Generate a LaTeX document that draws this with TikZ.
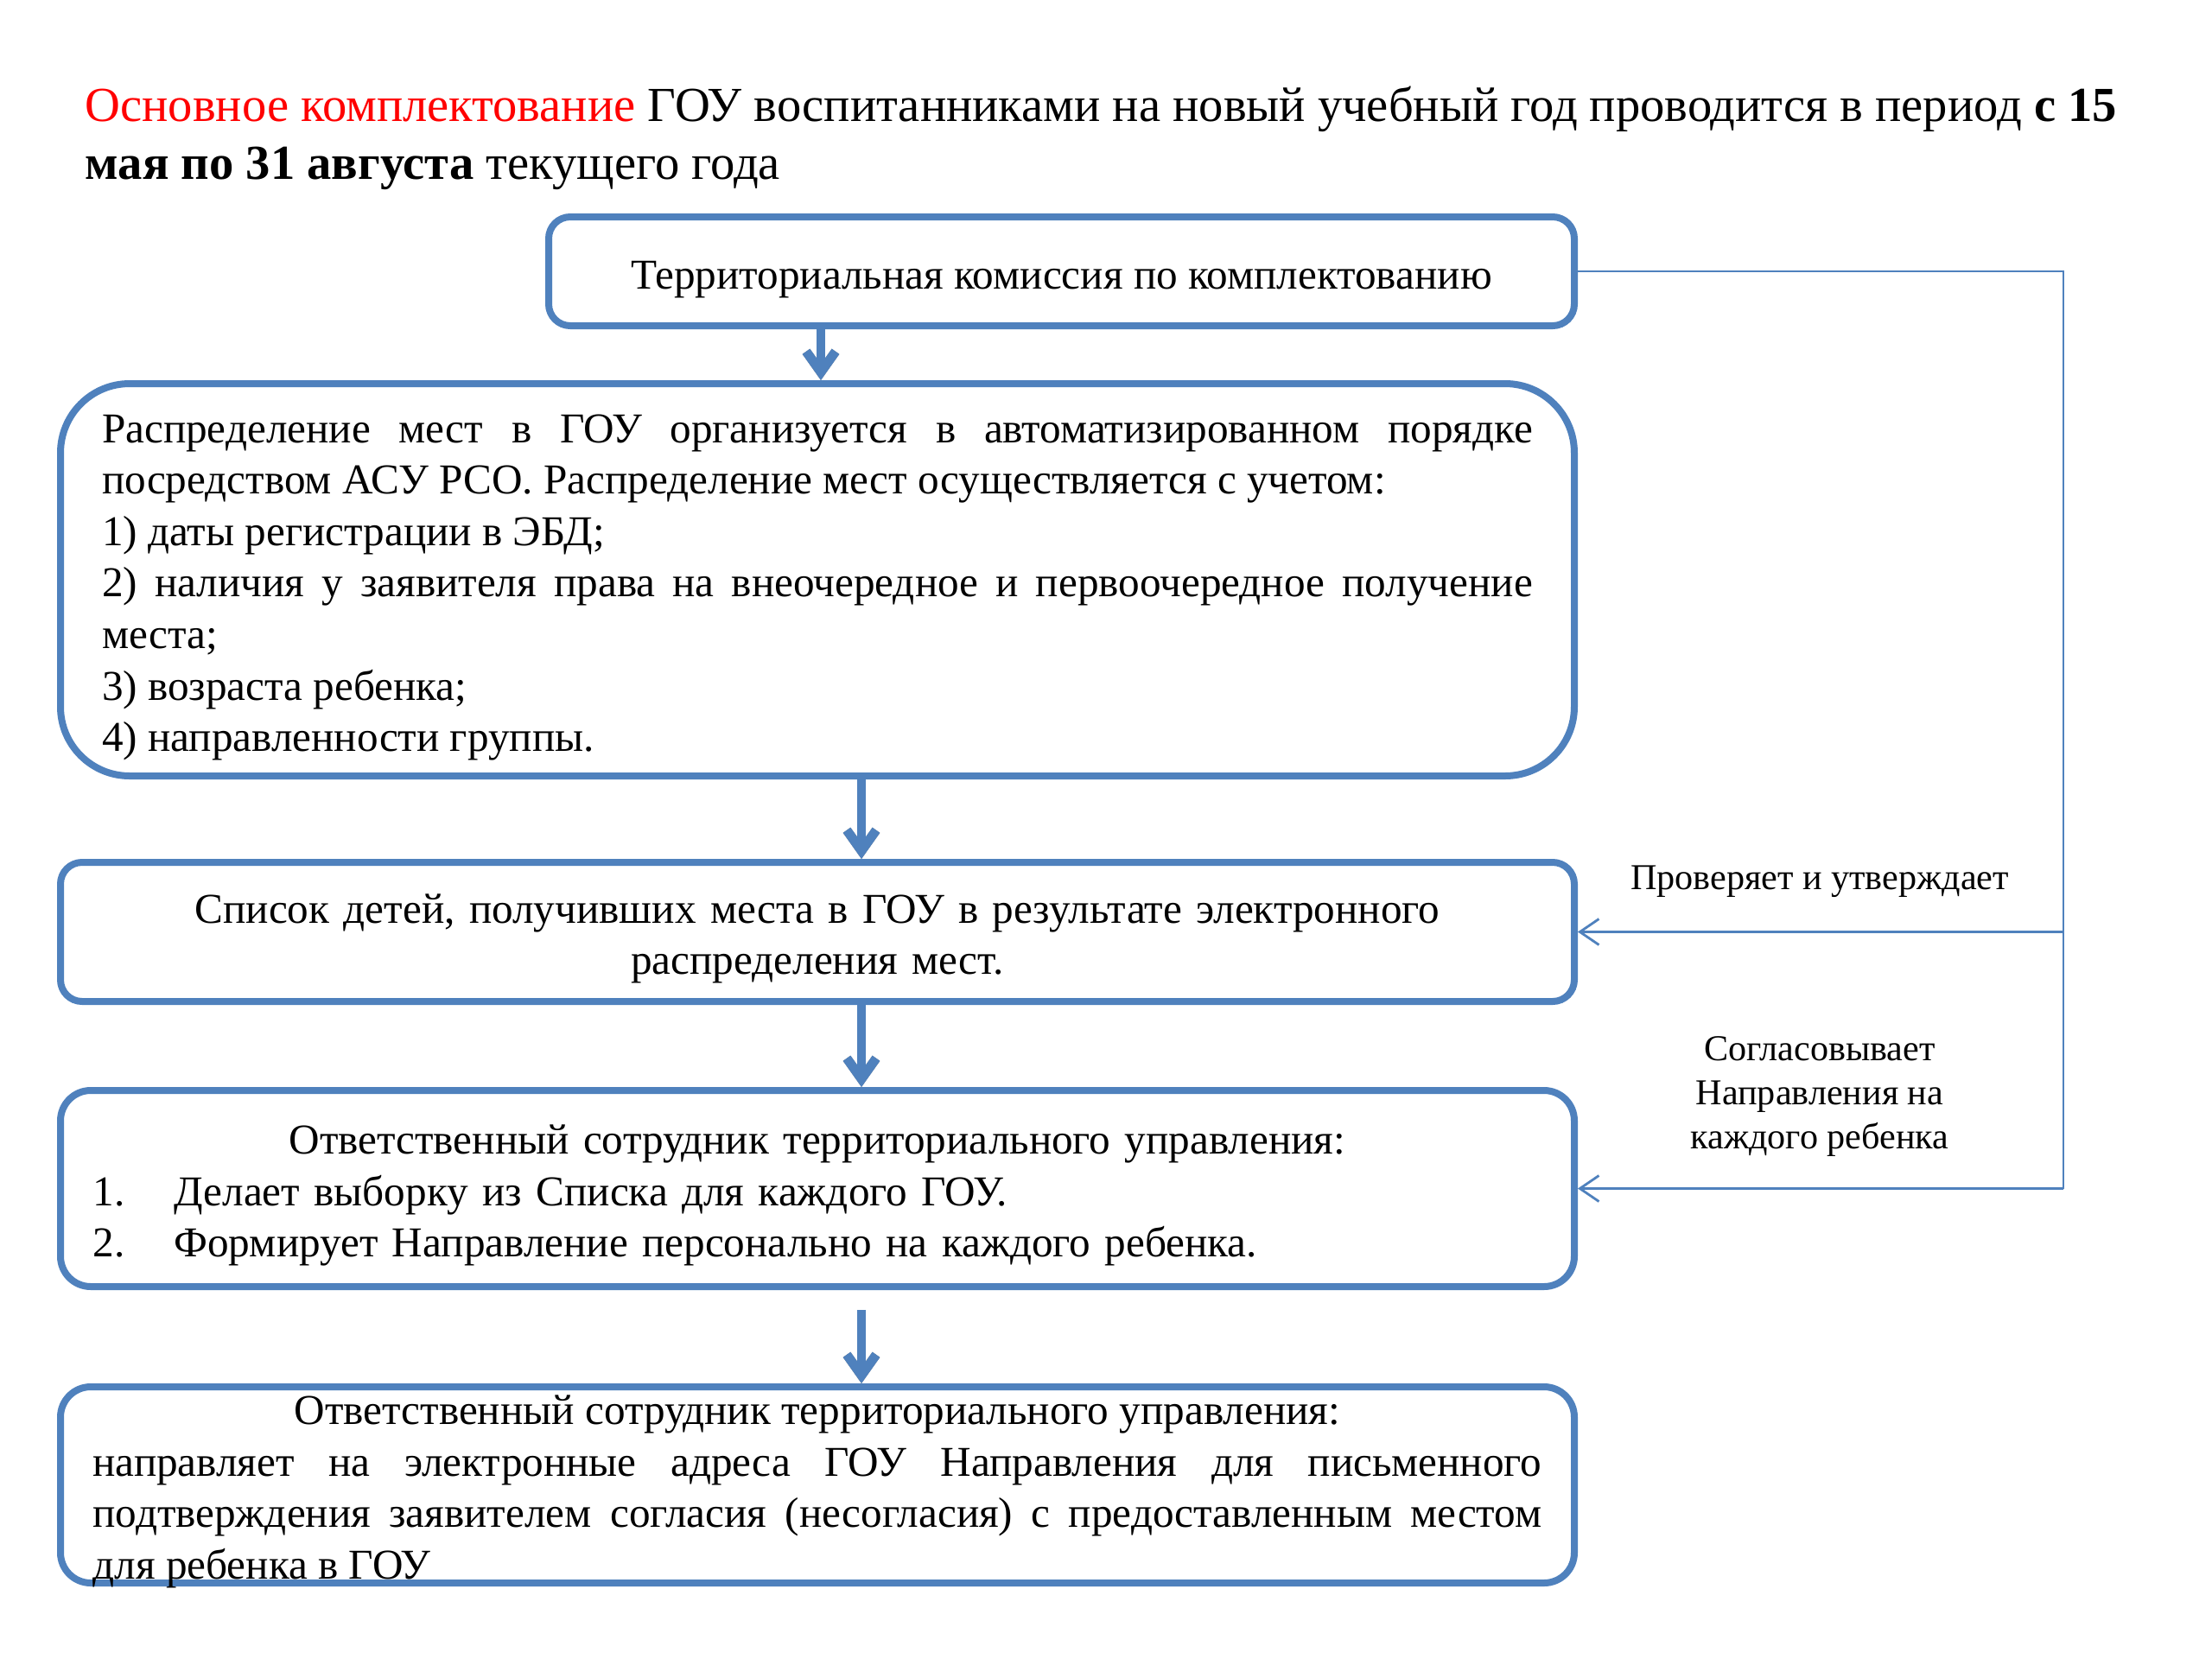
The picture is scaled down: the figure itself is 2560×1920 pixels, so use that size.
\documentclass[tikz,border=0pt]{standalone}
\usepackage{fontspec}
\setmainfont{Liberation Serif}
\usetikzlibrary{arrows.meta,calc}
\definecolor{boxblue}{HTML}{4F81BD}
\definecolor{titlered}{HTML}{FF0000}
\definecolor{shadowgray}{HTML}{8C8C8C}
\begin{document}
\begin{tikzpicture}[x=0.1mm,y=-0.1mm,
  box/.style={draw=boxblue, line width=0.8mm, inner sep=0pt},
  txt/.style={font=\fontsize{14}{16.96}\selectfont, inner sep=0pt},
  lbl/.style={font=\fontsize{12}{14.5}\selectfont, inner sep=0pt},
  bigarrow/.style={draw=boxblue, line width=1.07mm, -{Straight Barb[length=2.4mm, width=3.4mm, line width=1.07mm]}},
  bigshadow/.style={draw=shadowgray, line width=1.07mm, -{Straight Barb[length=2.4mm, width=3.4mm, line width=1.07mm]}},
  thinarrow/.style={draw=boxblue, line width=0.28mm, -{Straight Barb[length=2.2mm, width=3.0mm, line width=0.28mm]}},
  thinline/.style={draw=boxblue, line width=0.28mm}
]
\useasboundingbox[fill=white] (0,0) rectangle (2560,1920);

% title
\node[anchor=base west, inner sep=0pt, align=left, font=\fontsize{16.1}{18.8}\selectfont] (title) at (98,207)
  {\textcolor{titlered}{Основное комплектование} ГОУ воспитанниками на новый учебный год проводится в период \textbf{с 15}\\
   \textbf{мая по 31 августа} текущего года};

% boxes
\node[box, rounded corners=2.5mm, minimum width=118.7mm, minimum height=12.6mm] (b1) at (1228.5,314) {};
\node[box, rounded corners=8mm, minimum width=175.2mm, minimum height=45.4mm] (b2) at (946,671) {};
\node[box, rounded corners=2.5mm, minimum width=175.2mm, minimum height=16.1mm] (b3) at (946,1078.5) {};
\node[box, rounded corners=3.5mm, minimum width=175.2mm, minimum height=22.7mm] (b4) at (946,1375.5) {};
\node[box, rounded corners=3.5mm, minimum width=175.2mm, minimum height=22.7mm] (b5) at (946,1718.5) {};

% box texts
\node[txt] (t1) at ([yshift=-1.0mm]b1.center) {Территориальная комиссия по комплектованию};

\node[txt, text width=165.6mm, align=justify] (t2) at ([yshift=-0.9mm]b2.center)
  {Распределение мест в ГОУ организуется в автоматизированном порядке\linebreak
   посредством АСУ РСО. Распределение мест осуществляется с учетом:\\
   1) даты регистрации в ЭБД;\\
   2) наличия у заявителя права на внеочередное и первоочередное получение\linebreak
   места;\\
   3) возраста ребенка;\\
   4) направленности группы.};

\node[txt, text width=167.7mm, align=center] (t3) at ([yshift=-0.8mm]b3.center)
  {Список детей, получивших места в ГОУ в результате электронного\\распределения мест.};

\node[txt, text width=167.7mm, align=left] (t4) at ([yshift=-0.8mm]b4.center)
  {\makebox[\linewidth][c]{Ответственный сотрудник территориального управления:}\\
   \makebox[9.4mm][l]{1.}Делает выборку из Списка для каждого ГОУ.\\
   \makebox[9.4mm][l]{2.}Формирует Направление персонально на каждого ребенка.};

\node[txt, text width=167.7mm, align=justify] (t5) at ([yshift=-0.8mm]b5.center)
  {\makebox[\linewidth][c]{Ответственный сотрудник территориального управления:}\\
   направляет на электронные адреса ГОУ Направления для письменного\linebreak
   подтверждения заявителем согласия (несогласия) с предоставленным местом\linebreak
   для ребенка в ГОУ};

% vertical arrows
\coordinate (ax1) at (950,0);
\coordinate (ax2) at (997,0);
\draw[bigshadow, xshift=0.15mm, yshift=-0.45mm] (ax1 |- b1.south) -- (ax1 |- b2.north);
\draw[bigarrow] (ax1 |- b1.south) -- (ax1 |- b2.north);
\draw[bigshadow, xshift=0.15mm, yshift=-0.45mm] (ax2 |- b2.south) -- (ax2 |- b3.north);
\draw[bigarrow] (ax2 |- b2.south) -- (ax2 |- b3.north);
\draw[bigshadow, xshift=0.15mm, yshift=-0.45mm] (ax2 |- b3.south) -- (ax2 |- b4.north);
\draw[bigarrow] (ax2 |- b3.south) -- (ax2 |- b4.north);
\draw[bigshadow, xshift=0.15mm, yshift=-0.45mm] ($(ax2 |- b4.south)+(0,23)$) -- (ax2 |- b5.north);
\draw[bigarrow] ($(ax2 |- b4.south)+(0,23)$) -- (ax2 |- b5.north);

% right feedback connector
\coordinate (rx) at (2388,0);
\draw[thinline] (b1.east) -- (rx |- b1.east) -- (rx |- b4.east);
\draw[thinarrow] (rx |- b4.east) -- (b4.east);
\draw[thinarrow] (rx |- b3.east) -- (b3.east);

% labels
\node[lbl] (l1) at (2106,1020) {Проверяет и утверждает};
\node[lbl, align=center] (l2) at (2106,1269) {Согласовывает\\Направления на\\каждого ребенка};
\end{tikzpicture}
\end{document}
